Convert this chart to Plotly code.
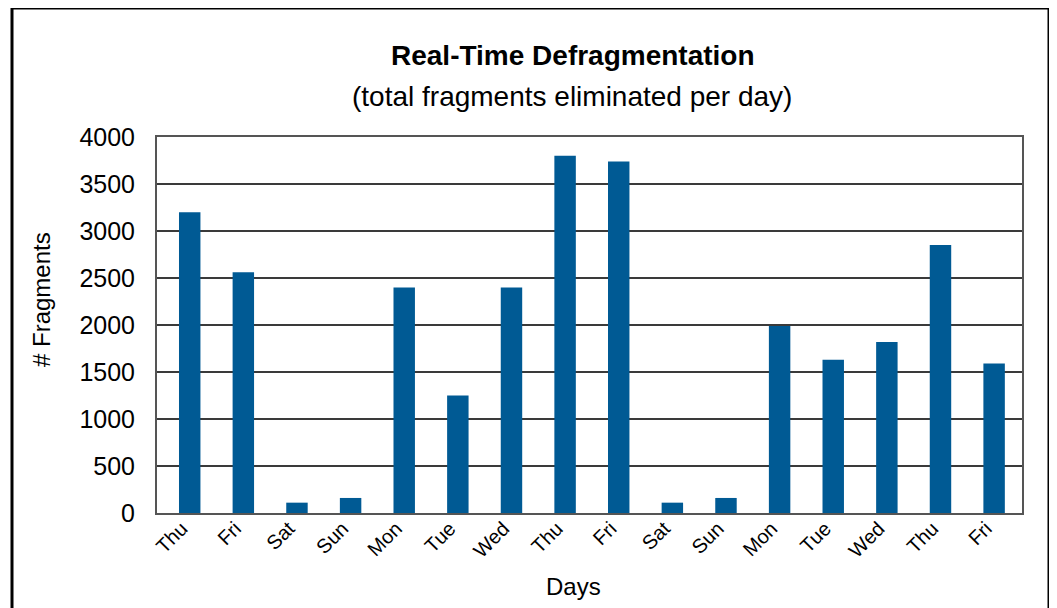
import plotly.graph_objects as go

days = ["Thu", "Fri", "Sat", "Sun", "Mon", "Tue", "Wed", "Thu",
        "Fri", "Sat", "Sun", "Mon", "Tue", "Wed", "Thu", "Fri"]
fragments = [3200, 2560, 110, 160, 2400, 1250, 2400, 3800,
             3740, 110, 160, 1990, 1630, 1820, 2850, 1590]
y_ticks = [0, 500, 1000, 1500, 2000, 2500, 3000, 3500, 4000]

FONT = "Liberation Sans, Arial, sans-serif"
idx = list(range(len(days)))

fig = go.Figure(go.Bar(x=idx, y=fragments, marker=dict(color="#005a94", line=dict(width=0)),
                       width=0.4))

fig.update_layout(
    width=1049, height=600,
    margin=dict(l=149, r=35, t=129, b=95),
    paper_bgcolor="white", plot_bgcolor="white",
    showlegend=False,
    font=dict(family=FONT, color="#000"),
)
fig.update_xaxes(
    range=[-0.61, 15.52], tickmode="array", tickvals=idx, ticktext=days,
    tickangle=-45, tickfont=dict(size=20, family=FONT, color="#000"),
    showline=True, linecolor="#555", linewidth=2, mirror=True,
    showgrid=False, ticks="", ticklabelstandoff=-6, ticklabelshift=-8,
)
fig.update_yaxes(
    range=[0, 4000], tickmode="array", tickvals=y_ticks,
    tickfont=dict(size=25, family=FONT, color="#000"),
    showline=True, linecolor="#555", linewidth=2, mirror=True,
    showgrid=True, gridcolor="#3a3a3a", gridwidth=2,
    ticks="", ticklabelstandoff=15, zeroline=False,
)

def px(xp):
    return (xp - 157) / 865.0

def py(yp):
    return (513 - yp) / 376.0

fig.add_annotation(x=px(573), y=py(55), xref="paper", yref="paper",
                   text="<b>Real-Time Defragmentation</b>", showarrow=False,
                   font=dict(size=28, family=FONT, color="#000"), xanchor="center", yanchor="middle")
fig.add_annotation(x=px(572), y=py(96), xref="paper", yref="paper",
                   text="(total fragments eliminated per day)", showarrow=False,
                   font=dict(size=28, family=FONT, color="#000"), xanchor="center", yanchor="middle")
fig.add_annotation(x=px(573), y=py(586), xref="paper", yref="paper",
                   text="Days", showarrow=False,
                   font=dict(size=24, family=FONT, color="#000"), xanchor="center", yanchor="middle")
fig.add_annotation(x=px(41), y=py(300), xref="paper", yref="paper",
                   text="# Fragments", showarrow=False, textangle=-90,
                   font=dict(size=24, family=FONT, color="#000"), xanchor="center", yanchor="middle")

fig.add_shape(type="rect", xref="paper", yref="paper",
              x0=px(12), x1=px(1049), y0=py(640), y1=py(8),
              line=dict(color="#000", width=3), layer="above")

fig.write_html("out.html")
